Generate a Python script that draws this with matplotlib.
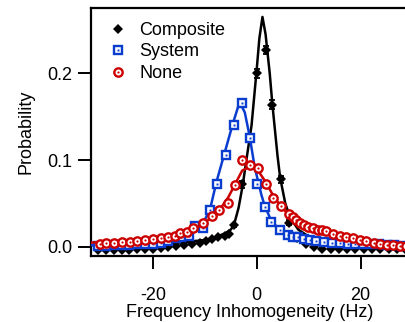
import matplotlib
matplotlib.use("Agg")

import matplotlib.pyplot as plt
from matplotlib.legend_handler import HandlerTuple

plt.rcParams['font.family'] = ['Liberation Sans', 'DejaVu Sans']
plt.rcParams['axes.unicode_minus'] = False

# Composite (black) - data points
comp_x = [-30.5, -29, -27.5, -26, -24.5, -23, -21.5, -20, -18.5, -17, -15.5, -14,
          -12.5, -11, -9.8, -8.6, -7.4, -6.2, -5.4, -4.4, -2.8, 0.0, 1.7, 3.0, 4.6,
          6.2, 7.8, 9.4, 11, 12.6, 14.2, 15.8, 17.4, 19, 20.6, 22.2, 23.8, 25.4, 27,
          28.6, 30]
comp_y = [-0.003, -0.003, -0.003, -0.003, -0.003, -0.002, -0.002, -0.002, -0.001, 0.0,
          0.001, 0.002, 0.003, 0.005, 0.007, 0.009, 0.011, 0.013, 0.015, 0.025, 0.072,
          0.200, 0.227, 0.164, 0.078, 0.028, 0.010, 0.003, 0.0, -0.002, -0.002, -0.002,
          -0.002, -0.002, -0.002, -0.002, -0.002, -0.002, -0.002, -0.002, -0.002]
comp_err = [0.001] * 19 + [0.002, 0.004, 0.005, 0.005, 0.005, 0.004, 0.003] + [0.001] * 15

# Composite fit line
comp_fit_x = [-32, -20, -15, -10, -8, -6, -5, -4.4, -3.5, -2.7, -2, -1, 0, 0.5, 1.1,
              1.7, 2.5, 3, 4, 4.5, 5.5, 6.5, 8, 10, 15, 20, 32]
comp_fit_y = [0.002, 0.003, 0.005, 0.008, 0.011, 0.016, 0.020, 0.025, 0.045, 0.071,
              0.100, 0.140, 0.205, 0.240, 0.265, 0.245, 0.200, 0.165, 0.105, 0.080,
              0.050, 0.033, 0.020, 0.012, 0.005, 0.003, 0.001]

# System (blue)
sys_x = [-30.5, -29, -27.5, -26, -24.5, -23, -21.5, -20, -18.5, -17, -15.5, -14.5,
         -13, -11.9, -10.3, -9.0, -7.6, -6.0, -4.4, -2.9, -1.35, 0.1, 1.5, 2.8, 4.4,
         6.0, 7.0, 7.9, 9, 10.2, 11.5, 13, 14.5, 16, 17.5, 19, 20.5, 22, 23.5, 25,
         26.5, 28, 29.5]
sys_y = [0.001, 0.001, 0.002, 0.002, 0.002, 0.003, 0.003, 0.004, 0.005, 0.007, 0.010,
         0.012, 0.013, 0.024, 0.022, 0.043, 0.073, 0.106, 0.141, 0.166, 0.126, 0.073,
         0.046, 0.029, 0.020, 0.014, 0.012, 0.011, 0.009, 0.008, 0.007, 0.006, 0.005,
         0.005, 0.004, 0.004, 0.003, 0.003, 0.003, 0.002, 0.002, 0.001, 0.001]

sys_fit_x = [-32, -25, -20, -15, -12, -10.3, -9, -7.75, -6.2, -4.6, -3.3, -2.3, -1.35,
             -0.4, 0.9, 1.5, 2.8, 4.4, 6, 8, 10, 15, 20, 32]
sys_fit_y = [0.002, 0.004, 0.006, 0.011, 0.019, 0.028, 0.043, 0.075, 0.108, 0.142,
             0.167, 0.155, 0.127, 0.092, 0.060, 0.048, 0.030, 0.020, 0.014, 0.010,
             0.008, 0.005, 0.004, 0.002]

# None (red)
none_x = [-30.2, -29, -27.5, -26, -24.4, -23, -21.5, -20, -18.5, -17, -15.8, -14.8,
          -13.5, -12.3, -10.4, -8.7, -7.3, -5.6, -4.2, -2.8, -1.3, 0.25, 1.7, 3.1, 4.6,
          6.2, 7.0, 7.6, 8.3, 9.0, 9.9, 10.8, 11.7, 12.5, 13.4, 14.6, 16, 17.2, 18.5,
          19.8, 21.1, 22.5, 23.8, 25, 26.2, 27.5, 28.8]
none_y = [0.004, 0.005, 0.005, 0.006, 0.006, 0.007, 0.008, 0.009, 0.010, 0.011, 0.013,
          0.016, 0.017, 0.022, 0.028, 0.036, 0.043, 0.051, 0.071, 0.100, 0.095, 0.091,
          0.072, 0.056, 0.047, 0.038, 0.034, 0.031, 0.028, 0.025, 0.023, 0.0215, 0.020,
          0.019, 0.018, 0.015, 0.013, 0.012, 0.010, 0.008, 0.007, 0.005, 0.003, 0.002,
          0.002, 0.001, 0.001]

none_fit_x = [-32, -25, -20, -15, -12, -10.4, -8.7, -7, -5.5, -4.2, -2.8, -1.2, 0.25,
              1.7, 3.1, 4.6, 6.2, 7.6, 9, 10.8, 13.4, 17, 21, 25, 32]
none_fit_y = [0.005, 0.007, 0.010, 0.015, 0.021, 0.026, 0.034, 0.044, 0.057, 0.072,
              0.088, 0.093, 0.088, 0.075, 0.060, 0.047, 0.037, 0.031, 0.026, 0.021,
              0.016, 0.011, 0.008, 0.005, 0.003]

black = '#000000'
blue = '#0a3ccf'
red = '#cc0000'

fig = plt.figure(figsize=(4.06, 3.22), dpi=100)
ax = fig.add_axes([91/406, 1-256/322, (423-91)/406, (256-8)/322])

# black
ax.plot(comp_fit_x, comp_fit_y, color=black, lw=1.8, zorder=2)
ax.errorbar(comp_x, comp_y, yerr=comp_err, fmt='none', ecolor=black, elinewidth=1.3,
            capsize=2.5, capthick=1.3, zorder=3)
h_comp, = ax.plot(comp_x, comp_y, 'D', color=black, ms=4.8, mew=0, ls='none', zorder=3)

# blue
ax.plot(sys_fit_x, sys_fit_y, color=blue, lw=1.8, zorder=4)
h_sys1, = ax.plot(sys_x, sys_y, 's', mfc='white', mec=blue, mew=1.7, ms=5.8,
                  ls='none', zorder=5)
h_sys2, = ax.plot(sys_x, sys_y, 's', color=blue, ms=1.4, mew=0, ls='none', zorder=5)

# red
ax.plot(none_fit_x, none_fit_y, color=red, lw=1.8, zorder=6)
h_none1, = ax.plot(none_x, none_y, 'o', mfc='white', mec=red, mew=1.7, ms=6.0,
                   ls='none', zorder=7)
h_none2, = ax.plot(none_x, none_y, 'o', color=red, ms=1.6, mew=0, ls='none', zorder=7)

ax.set_xlim(-31.9, 32.0)
ax.set_ylim(-0.0104, 0.2753)
ax.set_xticks([-20, 0, 20])
ax.set_yticks([0.0, 0.1, 0.2])
ax.set_yticklabels(['0.0', '0.1', '0.2'])

for s in ['left', 'bottom', 'top', 'right']:
    ax.spines[s].set_linewidth(1.6)
ax.tick_params(direction='out', length=9.5, width=1.4, labelsize=13)
ax.tick_params(axis='x', pad=13)
ax.tick_params(axis='y', pad=4)

ax.set_ylabel('Probability', fontsize=13, labelpad=9)
ax.set_xlabel('Frequency Inhomogeneity (Hz)', fontsize=13)
ax.xaxis.set_label_coords(0.479, -0.195)

leg = ax.legend([h_comp, (h_sys1, h_sys2), (h_none1, h_none2)],
                ['Composite', 'System', 'None'],
                handler_map={tuple: HandlerTuple(ndivide=1)},
                loc='upper left', bbox_to_anchor=(0.02, 0.995), frameon=False,
                fontsize=13, handlelength=0.8, handletextpad=0.8, labelspacing=0.25,
                borderaxespad=0.3)

fig.savefig('out.png', dpi=100)
